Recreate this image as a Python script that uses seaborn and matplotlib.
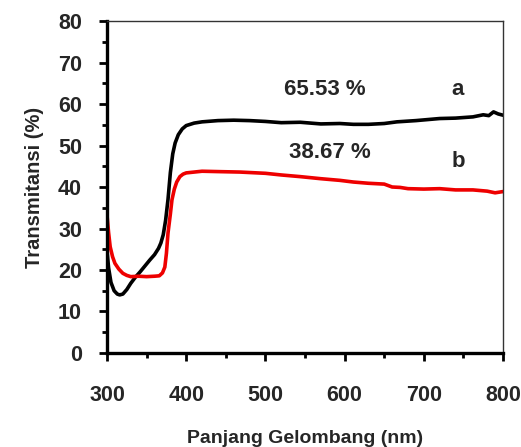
import matplotlib
matplotlib.use("Agg")
import matplotlib.pyplot as plt
from matplotlib.ticker import MultipleLocator
import seaborn as sns
import pandas as pd

# Transmittance spectra (wavelength in nm, transmittance in %)
wl_a = [300, 302, 305, 309, 313, 316, 320, 325, 330, 336, 342, 348, 354, 360,
        365, 368, 371, 374, 377, 380, 383, 386, 390, 395, 400, 410, 420, 440,
        460, 480, 500, 520, 544, 570, 594, 611, 630, 650, 666, 690, 720, 740,
        762, 775, 782, 788, 794, 800]
t_a = [24.5, 20.5, 17.0, 15.0, 14.2, 14.0, 14.2, 15.3, 16.8, 18.3, 19.6, 21.0,
       22.4, 23.7, 25.2, 26.5, 28.5, 32.0, 37.0, 43.5, 48.0, 50.6, 52.6, 54.0,
       54.8, 55.4, 55.7, 56.0, 56.1, 56.0, 55.8, 55.5, 55.6, 55.2, 55.3, 55.1,
       55.1, 55.3, 55.7, 56.0, 56.5, 56.6, 56.9, 57.4, 57.2, 58.1, 57.6, 57.3]

wl_b = [300, 302, 304, 307, 310, 315, 320, 325, 330, 340, 350, 360, 366, 370,
        373, 375, 377, 380, 382, 385, 388, 392, 396, 400, 420, 443, 468, 500,
        520, 544, 570, 594, 611, 630, 650, 660, 670, 680, 700, 720, 740, 762,
        780, 790, 800]
t_b = [33.2, 29.0, 25.6, 23.2, 21.6, 20.2, 19.2, 18.7, 18.4, 18.5, 18.4, 18.5,
       18.6, 19.3, 20.7, 24.0, 28.9, 33.5, 36.9, 39.5, 41.2, 42.5, 43.1, 43.4,
       43.8, 43.7, 43.6, 43.3, 42.9, 42.5, 42.0, 41.6, 41.2, 40.9, 40.7, 40.0,
       39.9, 39.6, 39.5, 39.6, 39.3, 39.3, 39.0, 38.6, 38.9]

samples = ["a", "b"]
avg_labels = ["65.53 %", "38.67 %"]

df = pd.concat([
    pd.DataFrame({"wl": wl_a, "T": t_a, "sample": "a"}),
    pd.DataFrame({"wl": wl_b, "T": t_b, "sample": "b"}),
])

sns.set_style("ticks")
plt.rcParams["font.family"] = ["Liberation Sans", "DejaVu Sans"]
plt.rcParams["font.weight"] = "bold"

fig = plt.figure(figsize=(5.21, 4.47), dpi=100)
ax = fig.add_axes([0.2054, 0.2103, 0.7601, 0.7427])

sns.lineplot(data=df, x="wl", y="T", hue="sample",
             palette={"a": "#000000", "b": "#ee0000"},
             linewidth=2.6, legend=False, sort=False, ax=ax)

ax.set_xlim(300, 800)
ax.set_ylim(0, 80)
ax.xaxis.set_major_locator(MultipleLocator(100))
ax.xaxis.set_minor_locator(MultipleLocator(50))
ax.yaxis.set_major_locator(MultipleLocator(10))
ax.yaxis.set_minor_locator(MultipleLocator(5))

ax.tick_params(axis="both", which="major", direction="out", length=6,
               width=2, labelsize=15.5, color="black")
ax.tick_params(axis="both", which="minor", direction="out", length=3.5,
               width=2, color="black")
ax.tick_params(axis="x", which="major", pad=17)
ax.tick_params(axis="y", which="major", pad=12)
for lab in ax.get_xticklabels() + ax.get_yticklabels():
    lab.set_fontweight("bold")

for side in ["left", "bottom"]:
    ax.spines[side].set_linewidth(2.4)
    ax.spines[side].set_color("black")
for side in ["top", "right"]:
    ax.spines[side].set_linewidth(1.0)
    ax.spines[side].set_color("#333333")

ax.set_xlabel("Panjang Gelombang (nm)", fontsize=14, fontweight="bold",
              labelpad=17)
ax.set_ylabel("Transmitansi (%)", fontsize=14.5, fontweight="bold",
              labelpad=10)

ax.text(575, 63.6, avg_labels[0], fontsize=16, fontweight="bold",
        ha="center", va="center")
ax.text(582, 48.4, avg_labels[1], fontsize=16, fontweight="bold",
        ha="center", va="center")
ax.text(742, 63.6, samples[0], fontsize=16, fontweight="bold",
        ha="center", va="center")
ax.text(743, 46.2, samples[1], fontsize=16, fontweight="bold",
        ha="center", va="center")

fig.savefig("out.png", dpi=100)
